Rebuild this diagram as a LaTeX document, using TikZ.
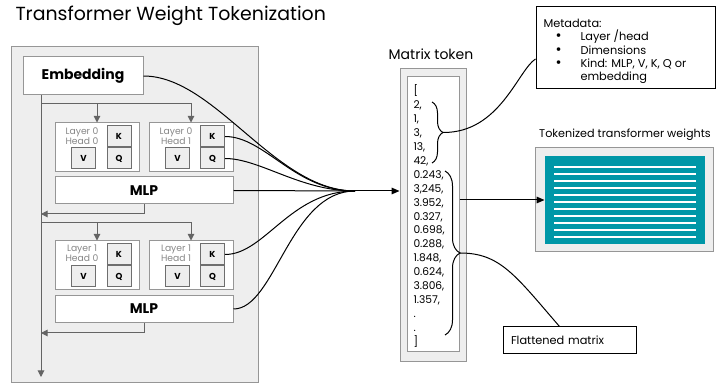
\documentclass[tikz,border=0pt]{standalone}
\usepackage{fontspec}
\setmainfont{Poppins}
\usetikzlibrary{arrows.meta,decorations.pathreplacing}

\definecolor{panelgray}{RGB}{238,238,238}
\definecolor{rimgray}{RGB}{150,150,150}
\definecolor{darkrim}{RGB}{110,110,110}
\definecolor{lblgray}{RGB}{135,135,135}
\definecolor{flowgray}{RGB}{100,100,100}
\definecolor{tokteal}{RGB}{0,151,167}

\tikzset{every picture/.style={line width=0.75pt}}
\tikzset{
  panelbox/.style={draw=rimgray, fill=panelgray, inner sep=0pt},
  blockbox/.style={draw=rimgray, fill=white, inner sep=0pt, font=\bfseries\fontsize{10.5}{12}\selectfont},
  headbox/.style={draw=rimgray, fill=white, inner sep=0pt, minimum width=63pt, minimum height=36.75pt},
  wbox/.style={draw=darkrim, fill=panelgray, inner sep=0pt, minimum width=18pt, minimum height=15.75pt, font=\bfseries\fontsize{6.5}{7}\selectfont},
  headlbl/.style={align=center, text=lblgray, inner sep=0pt, font=\fontsize{6.9}{7.5}\selectfont},
  notebox/.style={draw=black, fill=white, inner ysep=0pt, align=left, font=\fontsize{8.5}{10}\selectfont},
  labeltxt/.style={inner sep=0pt, font=\fontsize{8.4}{10}\selectfont},
  listtxt/.style={inner sep=0pt, font=\fontsize{8}{9}\selectfont},
  flow/.style={draw=flowgray, -{Triangle[length=5pt,width=5pt]}},
  feed/.style={draw=black},
  feedarrow/.style={draw=black, -{Triangle[length=6pt,width=5pt]}},
  curly/.style={decorate, decoration={brace, amplitude=#1}},
}

\begin{document}
\begin{tikzpicture}[x=0.75pt,y=0.75pt,yscale=-1,xscale=1]
\useasboundingbox (0,0) rectangle (717,384);

% Text Node
\node[inner sep=0pt, anchor=base west, font=\fontsize{14.2}{17}\selectfont] (title) at (15,21) {Transformer Weight Tokenization};

%Shape: Rectangle [model panel]
\node[panelbox, minimum width=185.25pt, minimum height=251.25pt] (model) at (134.5,214.5) {};
\node[blockbox, minimum width=90pt, minimum height=28.5pt] (emb) at (83,76) {Embedding};

%Layer 0 heads
\node[headbox] (h00) at (97,147.5) {};
\node[headbox] (h01) at (191,147.5) {};
\node[headlbl] (h00lbl) at (82,135.7) {Layer 0\\Head 0};
\node[headlbl] (h01lbl) at (176,135.7) {Layer 0\\Head 1};
\node[wbox] (k00) at (119,136.5) {K};
\node[wbox] (q00) at (119,158.5) {Q};
\node[wbox] (v00) at (83.5,158.5) {V};
\node[wbox] (k01) at (212.5,136.5) {K};
\node[wbox] (q01) at (212.5,158.5) {Q};
\node[wbox] (v01) at (177.5,158.5) {V};
\node[blockbox, minimum width=133.5pt, minimum height=20.25pt] (mlp0) at (144,190.5) {MLP};

%Layer 1 heads
\node[headbox] (h10) at (97,265.5) {};
\node[headbox] (h11) at (191,265.5) {};
\node[headlbl] (h10lbl) at (82,253.7) {Layer 1\\Head 0};
\node[headlbl] (h11lbl) at (176,253.7) {Layer 1\\Head 1};
\node[wbox] (k10) at (119,254.5) {K};
\node[wbox] (q10) at (119,276.5) {Q};
\node[wbox] (v10) at (83.5,276.5) {V};
\node[wbox] (k11) at (212.5,254.5) {K};
\node[wbox] (q11) at (212.5,276.5) {Q};
\node[wbox] (v11) at (177.5,276.5) {V};
\node[blockbox, minimum width=133.5pt, minimum height=20.25pt] (mlp1) at (144,309) {MLP};

%Residual stream
\coordinate (spineend) at (41,377);
\coordinate (fork0) at (41,104);
\coordinate (join0) at (41,214);
\coordinate (fork1) at (41,223);
\coordinate (join1) at (41,333);
\draw[flow] (emb.south -| spineend) -- (spineend);
\draw[flow] (fork0) -| (h01.north);
\draw[flow] (h00.north |- fork0) -- (h00.north);
\draw[flow] (mlp0.south) |- (join0);
\draw[flow] (fork1) -| (h11.north);
\draw[flow] (h10.north |- fork1) -- (h10.north);
\draw[flow] (mlp1.south) |- (join1);

%Shape: Rectangle [matrix token]
\node[panelbox, minimum width=49.5pt, minimum height=219.75pt] (tokout) at (433,215.5) {};
\node[draw=rimgray, fill=white, inner sep=0pt, minimum width=39pt, minimum height=206.25pt] (tokin) at (433,214.5) {};
% Text Node
\node[inner sep=0pt, anchor=base, font=\fontsize{10.5}{12}\selectfont] (toktitle) at (431,60) {Matrix token};
\foreach \v [count=\i] in {{[},{2,},{1,},{3,},{13,},{42,},{0.243,},{3,245,},{3.952,},{0.327,},{0.698,},{0.288,},{1.848,},{0.624,},{3.806,},{1.357,},{.},{.},{]}}
  \node[listtxt, anchor=base west] (v\i) at (413,{95+13.9*(\i-1)}) {\v};

%Braces
\coordinate (meta0) at (432,102);
\coordinate (meta1) at (432,163);
\coordinate (metatip) at (443,132.5);
\draw[curly=8.25pt] (meta0) -- (meta1);
\coordinate (flat0) at (445,171);
\coordinate (flat1) at (445,335);
\coordinate (flattip) at (460,253);
\draw[curly=11.25pt] (flat0) -- (flat1);

%Shape: Rectangle [metadata]
\node[notebox, minimum width=134.25pt, minimum height=61.5pt] (meta) at (625.5,48) {};
% Text Node
\node[inner sep=0pt, anchor=north west, align=left, font=\fontsize{8.5}{10}\selectfont] (metatxt) at (543,18.5) {Metadata:\\
\hspace*{9pt}\makebox[18.75pt][l]{\fontsize{11}{10}\selectfont\textbullet}Layer /head\\
\hspace*{9pt}\makebox[18.75pt][l]{\fontsize{11}{10}\selectfont\textbullet}Dimensions\\
\hspace*{9pt}\makebox[18.75pt][l]{\fontsize{11}{10}\selectfont\textbullet}Kind: MLP, V, K, Q or\\
\hspace*{27.75pt}embedding};
% Text Node [flattened]
\node[notebox, text width=87.75pt, inner xsep=6pt, minimum height=20.25pt] (flat) at (569.5,340.5) {Flattened matrix};

%Shape: Rectangle [tokenized weights]
\node[labeltxt, anchor=base] (twtitle) at (625,138) {Tokenized transformer weights};
\node[panelbox, minimum width=133.5pt, minimum height=78pt] (twout) at (624,200) {};
\node[fill=tokteal, inner sep=0pt, minimum width=120pt, minimum height=66pt] (twin) at (625,200) {};
\foreach \y in {167,174,...,237}
  \draw[white, line width=1.1pt] (554,\y) -- (696,\y);

%Curves into the token
\coordinate (merge) at (355,191);
\draw[feed] (emb.east) .. controls (215,76) and (275,191) .. (merge);
\draw[feed] (k01.east) .. controls (265,136.5) and (295,191) .. (merge);
\draw[feed] (q01.east) .. controls (260,158.5) and (300,191) .. (merge);
\draw[feed] (mlp0.east) -- (merge);
\draw[feed] (k11.east) .. controls (265,254.5) and (290,191) .. (merge);
\draw[feed] (mlp1.east) .. controls (275,309) and (290,191) .. (merge);
\draw[feedarrow] (merge) -- (merge -| tokout.west);

\draw[feedarrow] (tokin.east |- twin.west) -- (twin.west);
\draw[feed] (metatip) .. controls (500,133) and (518,70) .. ([yshift=8.25pt]meta.west);
\draw[feed] (flattip) .. controls (500,253) and (515,275) .. ([xshift=-7.5pt]flat.north);

\end{tikzpicture}
\end{document}
